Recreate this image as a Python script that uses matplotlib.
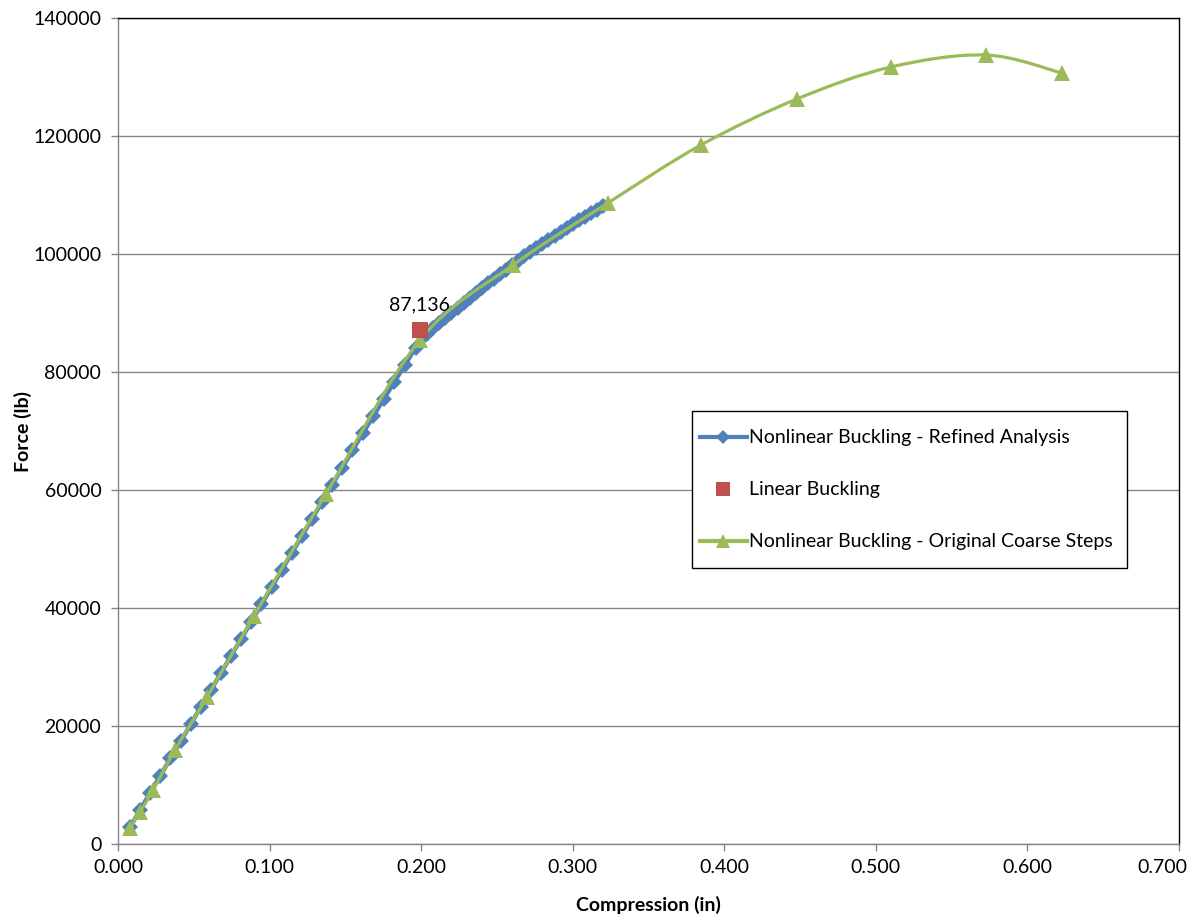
import matplotlib
matplotlib.use("Agg")
import matplotlib.pyplot as plt
import matplotlib.transforms as mtransforms
import numpy as np
from matplotlib.path import Path
from matplotlib.patches import PathPatch, Rectangle
from matplotlib.lines import Line2D

plt.rcParams['font.family'] = ['Lato', 'DejaVu Sans']

# Nonlinear buckling, refined load stepping
refined_x = [0.0080, 0.0146, 0.0213, 0.0280, 0.0346, 0.0413, 0.0480, 0.0546,
             0.0613, 0.0680, 0.0746, 0.0813, 0.0880, 0.0946, 0.1013, 0.1080,
             0.1146, 0.1213, 0.1280, 0.1346, 0.1413, 0.1480, 0.1547, 0.1615,
             0.1684, 0.1753, 0.1823, 0.1893, 0.1963, 0.2012,
             0.2040, 0.2080, 0.2120, 0.2160, 0.2200, 0.2240, 0.2280, 0.2320,
             0.2360, 0.2400, 0.2440, 0.2480, 0.2520, 0.2560, 0.2600, 0.2640,
             0.2680, 0.2720, 0.2760, 0.2800, 0.2840, 0.2880, 0.2920, 0.2960,
             0.3000, 0.3040, 0.3080, 0.3120, 0.3160, 0.3200]
refined_y = [2900, 5800, 8700, 11600, 14500, 17400, 20300, 23200,
             26100, 29000, 31900, 34800, 37700, 40600, 43500, 46400,
             49300, 52200, 55100, 58000, 60900, 63800, 66700, 69600,
             72500, 75400, 78300, 81200, 84100, 86000,
             86510, 87410, 88300, 89180, 90040, 90900, 91740, 92580,
             93400, 94210, 95010, 95800, 96580, 97340, 98100, 98850,
             99580, 100300, 101010, 101710, 102400, 103080, 103750, 104400,
             105050, 105680, 106310, 106920, 107520, 108110]

# Linear (eigenvalue) buckling load
linear_x = [0.1995]
linear_y = [87136]

# Nonlinear buckling, original coarse load steps
coarse_x = [0.0079, 0.0145, 0.0231, 0.0376, 0.0587, 0.0897, 0.1372, 0.1992,
            0.2606, 0.3232, 0.3846, 0.4479, 0.5099, 0.5726, 0.6227]
coarse_y = [2712, 5424, 9153, 15932, 24915, 38644, 59322, 85424,
            98136, 108644, 118475, 126271, 131695, 133729, 130678]

x_ticks = [0.0, 0.1, 0.2, 0.3, 0.4, 0.5, 0.6, 0.7]
y_ticks = [0, 20000, 40000, 60000, 80000, 100000, 120000, 140000]

BLUE = '#4F81BD'
RED = '#C0504D'
GREEN = '#9BBB59'
GRID = '#868686'
FS = 14
W, H = 1194, 917


def smooth_path(xs, ys):
    """Cubic Bezier path through the points (Catmull-Rom style smoothing)."""
    pts = np.column_stack([xs, ys]).astype(float)
    n = len(pts)
    verts = [pts[0]]
    codes = [Path.MOVETO]
    for i in range(n - 1):
        p0 = pts[i - 1] if i > 0 else pts[i]
        p1 = pts[i]
        p2 = pts[i + 1]
        p3 = pts[i + 2] if i + 2 < n else pts[i + 1]
        verts += [p1 + (p2 - p0) / 6.0, p2 - (p3 - p1) / 6.0, p2]
        codes += [Path.CURVE4] * 3
    return Path(verts, codes)


fig = plt.figure(figsize=(W / 100, H / 100), dpi=100)
ax = fig.add_axes([118 / W, 1 - 844 / H, (1179 - 118) / W, (844 - 18) / H])

ax.set_xlim(0, 0.7)
ax.set_ylim(0, 140000)
ax.set_xticks(x_ticks)
ax.set_yticks(y_ticks)
ax.set_xticklabels([f"{v:.3f}" for v in x_ticks])
ax.set_yticklabels([f"{v:d}" for v in y_ticks])

ax.yaxis.grid(True, color=GRID, lw=1.0)
ax.set_axisbelow(True)
for side in ('left', 'bottom'):
    ax.spines[side].set_color(GRID)
    ax.spines[side].set_linewidth(1.0)
for side in ('top', 'right'):
    ax.spines[side].set_color('black')
    ax.spines[side].set_linewidth(1.0)

ax.tick_params(axis='both', direction='out', length=5, width=1, color=GRID,
               labelsize=FS, labelcolor='black')
ax.tick_params(axis='y', pad=7)
ax.tick_params(axis='x', pad=6)

# keep the last x label inside the figure
last = ax.get_xticklabels()[-1]
last.set_transform(last.get_transform() +
                   mtransforms.ScaledTranslation(-17 / 100, 0, fig.dpi_scale_trans))

# Refined analysis
ax.add_patch(PathPatch(smooth_path(refined_x, refined_y), fill=False,
                       edgecolor=BLUE, lw=3.2, zorder=3, capstyle='round'))
ax.plot(refined_x, refined_y, linestyle='none', marker='D', markersize=8,
        color=BLUE, markeredgewidth=0, zorder=3)

# Coarse steps
ax.add_patch(PathPatch(smooth_path(coarse_x, coarse_y), fill=False,
                       edgecolor=GREEN, lw=2.3, zorder=4, capstyle='round'))
ax.plot(coarse_x, coarse_y, linestyle='none', marker='^', markersize=12,
        color=GREEN, markeredgewidth=0, zorder=4)

# Linear buckling point with its value label
ax.plot(linear_x, linear_y, linestyle='none', marker='s', markersize=11,
        color=RED, markeredgewidth=0, zorder=5)
ax.annotate(f"{linear_y[0]:,}", (linear_x[0], linear_y[0]),
            xytext=(-1, 12), textcoords='offset points',
            ha='center', va='bottom', fontsize=FS)

ax.set_xlabel('Compression (in)', fontsize=FS, fontweight='bold', labelpad=14)
ax.set_ylabel('Force (lb)', fontsize=FS, fontweight='bold', labelpad=1)

# Legend: a plain box with the entries centred inside it
fig.add_artist(Rectangle((692 / W, 1 - 568 / H), (1127 - 692) / W, (568 - 411) / H,
                         transform=fig.transFigure, facecolor='white',
                         edgecolor='black', lw=1.0, zorder=4))
handles = [
    Line2D([], [], color=BLUE, lw=3, marker='D', markersize=7, markeredgewidth=0),
    Line2D([], [], color=RED, lw=0, marker='s', markersize=10, markeredgewidth=0),
    Line2D([], [], color=GREEN, lw=3, marker='^', markersize=10, markeredgewidth=0),
]
labels = ['Nonlinear Buckling - Refined Analysis', 'Linear Buckling',
          'Nonlinear Buckling - Original Coarse Steps']
leg = fig.legend(handles, labels, loc='center left',
                 bbox_to_anchor=(700 / W, 1 - 490 / H),
                 fontsize=FS, frameon=False, handlelength=2.4,
                 handletextpad=0.1, labelspacing=1.8,
                 borderpad=0, borderaxespad=0)
leg.set_zorder(5)

fig.savefig('out.png', dpi=100, facecolor='white')
